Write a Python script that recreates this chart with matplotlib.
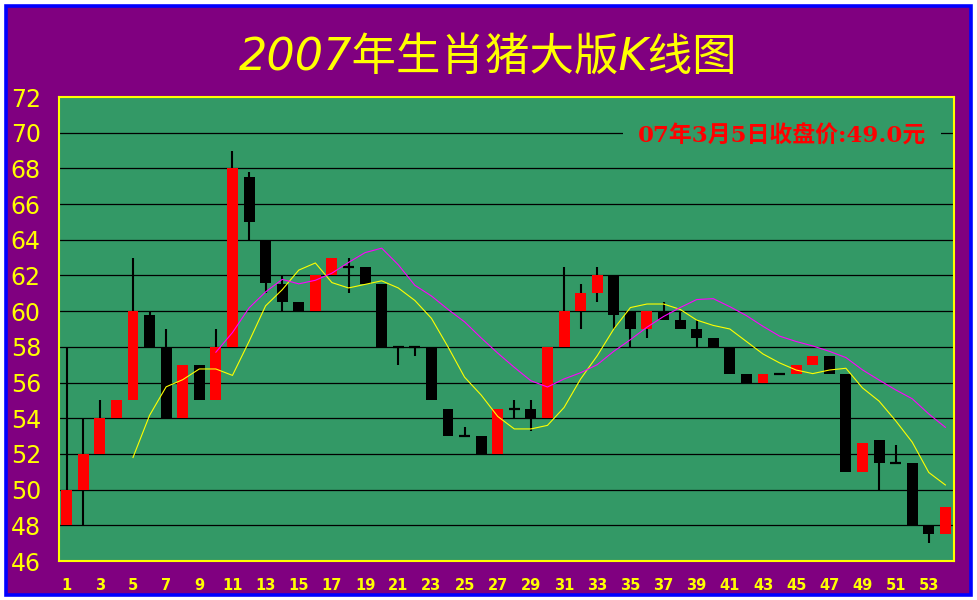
import matplotlib
matplotlib.use("Agg")
import matplotlib.pyplot as plt
from matplotlib.patches import Rectangle

plt.rcParams['font.family'] = ['DejaVu Sans', 'Noto Sans CJK SC']

# Daily candles, day 1..54
days = list(range(1, 55))
opens = [48, 50, 52, 54, 55, 59.8, 58, 54, 57, 55,
         58, 67.5, 64, 61.5, 60.5, 60, 62, 62.5, 62.5, 61.5,
         58, 58, 58, 54.5, 53, 53, 52, 54.5, 54.5, 54,
         58, 60, 61, 62, 60, 59, 60, 59.5, 59, 58.5,
         58, 56.5, 56, 56.5, 56.5, 57, 57.5, 56.5, 51, 52.8,
         51.5, 51.5, 48, 47.5]
closes = [50, 52, 54, 55, 60, 58, 54, 57, 55, 58,
          68, 65, 61.6, 60.5, 60, 62, 63, 62.5, 61.5, 58,
          58, 58, 55, 53, 53, 52, 54.5, 54.5, 54, 58,
          60, 61, 62, 59.8, 59, 60, 59.5, 59, 58.5, 58,
          56.5, 56, 56.5, 56.5, 57, 57.5, 56.5, 51, 52.6, 51.5,
          51.5, 48, 47.5, 49]
highs = [58, 54, 55, 55, 63, 60, 59, 57, 57, 59,
         69, 67.8, 64, 62, 60.5, 62, 63, 63, 62.5, 61.5,
         58, 58, 58, 54.5, 53.5, 53, 54.5, 55, 55, 58,
         62.5, 61.5, 62.5, 62, 60, 60, 60.5, 60, 59.5, 58.5,
         58, 56.5, 56.5, 56.5, 57, 57.5, 57.5, 56.5, 52.6, 52.8,
         52.5, 51.5, 48, 49]
lows = [48, 48, 52, 54, 55, 58, 54, 54, 55, 55,
        58, 64, 61, 60, 60, 60, 62, 61, 61.5, 58,
        57, 57.5, 55, 53, 53, 52, 52, 54, 53.3, 54,
        58, 59, 60.5, 59, 58, 58.5, 59.5, 59, 58, 58,
        56.5, 56, 56, 56.5, 56.5, 57, 56.5, 51, 51, 50,
        51.5, 48, 47, 47.5]

# moving-average lines as drawn on the chart
ma5_days = list(range(5, 55))
ma5 = [51.8, 54.16, 55.76, 56.16, 56.76, 56.76, 56.4, 58.3, 60.3, 61.2,
       62.3, 62.7, 61.6, 61.3, 61.5, 61.7, 61.3, 60.6, 59.6, 58.0,
       56.3, 55.3, 54.1, 53.4, 53.4, 53.6, 54.6, 56.2, 57.5, 59.0,
       60.2, 60.4, 60.4, 60.1, 59.5, 59.2, 59.0, 58.3, 57.6, 57.1,
       56.7, 56.5, 56.7, 56.8, 55.7, 54.96, 53.86, 52.66, 50.96, 50.26]
ma10_days = list(range(10, 55))
ma10 = [57.7, 58.8, 60.18, 61.08, 61.78, 61.53, 61.73, 62.13, 62.73, 63.28,
        63.53, 62.6, 61.45, 60.85, 60.1, 59.4, 58.5, 57.65, 56.85, 56.1,
        55.75, 56.2, 56.55, 57.0, 57.75, 58.4, 59.1, 59.7, 60.2, 60.65,
        60.7, 60.25, 59.75, 59.15, 58.6, 58.3, 58.05, 57.75, 57.4, 56.71,
        56.14, 55.59, 55.09, 54.24, 53.49]

y_ticks = list(range(46, 73, 2))
x_ticks = list(range(1, 55, 2))

title = "2007年生肖猪大版K线图"
note = "07年3月5日收盘价:49.0元"

GREEN = "#339966"
PURPLE = "#800080"

fig = plt.figure(figsize=(9.77, 6.0), dpi=100)
fig.patch.set_facecolor("white")
# blue frame with purple inside
fig.patches.append(Rectangle((5.5 / 977, 5.5 / 600), 965 / 977, 589 / 600,
                             transform=fig.transFigure, facecolor=PURPLE,
                             edgecolor="#0000FF", linewidth=2.6, zorder=-5))

ax = fig.add_axes([58.7 / 977, 39 / 600, 895.3 / 977, 464 / 600])
ax.set_facecolor(GREEN)

# horizontal grid
for v in y_ticks[1:-1]:
    ax.axhline(v, color="black", linewidth=0.9, zorder=1)

width = 0.66
for d, o, c, h, l in zip(days, opens, closes, highs, lows):
    ax.vlines(d, l, h, color="black", linewidth=1.5, zorder=2)
    if c > o:
        ax.bar(d, c - o, width, bottom=o, color="#FF0000", linewidth=0, zorder=3)
    elif c < o:
        ax.bar(d, o - c, width, bottom=c, color="black", linewidth=0, zorder=3)
    else:
        ax.hlines(o, d - width / 2, d + width / 2, color="black", linewidth=1.6, zorder=3)

ax.plot(ma5_days, ma5, color="#FFFF00", linewidth=0.8, zorder=4)
ax.plot(ma10_days, ma10, color="#FF00FF", linewidth=0.8, zorder=4)

ax.set_xlim(0.52, 54.52)
ax.set_ylim(46, 72)

ax.set_yticks(y_ticks)
ax.set_yticklabels([str(v) for v in y_ticks], fontsize=17, color="#FFFF00", ha="left")
ax.tick_params(axis="y", length=0, pad=34.5)
ax.set_xticks(x_ticks)
ax.set_xticklabels([str(v) for v in x_ticks], fontsize=10.5, color="#FFFF00",
                   fontweight="bold")
ax.tick_params(axis="x", length=0, pad=12)

for s in ax.spines.values():
    s.set_color("#FFFF00")
    s.set_linewidth(1.5)

ax.text(0.808, 0.915, note, transform=ax.transAxes, ha="center", va="center",
        fontsize=16.5, color="#FF0000", fontweight="bold",
        family=["DejaVu Serif", "Noto Sans CJK SC"], zorder=5,
        bbox=dict(boxstyle="square,pad=0.65", facecolor=GREEN, edgecolor="none"))

fig.text(0.5, 0.905, title, ha="center", va="center", fontsize=32,
         color="#FFFF00", style="italic")

fig.savefig("out.png", dpi=100, facecolor=fig.get_facecolor())
